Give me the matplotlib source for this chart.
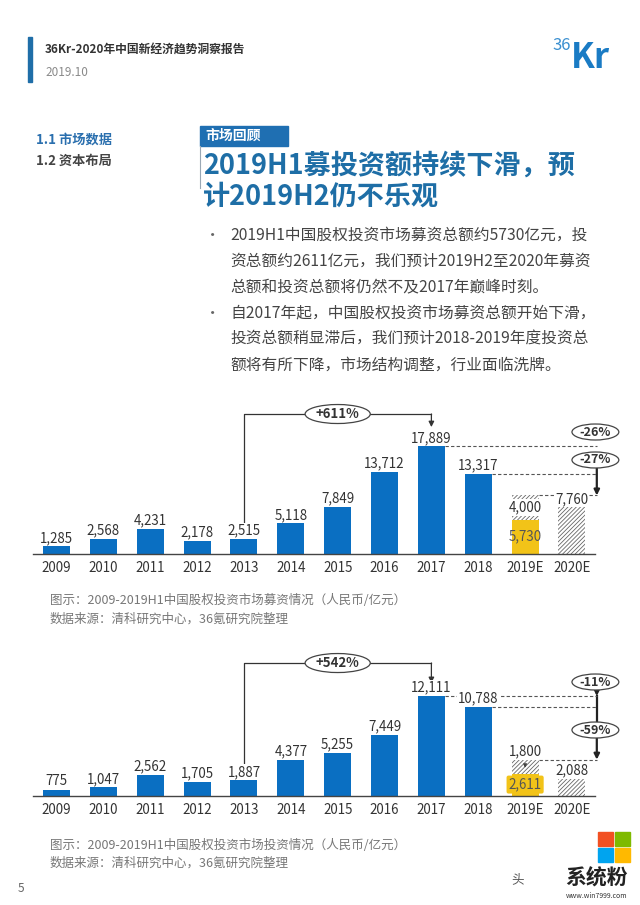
import matplotlib
matplotlib.use('Agg')
import matplotlib.pyplot as plt
from matplotlib.patches import Ellipse, Rectangle
import numpy as np

plt.rcParams['font.family'] = ['Noto Sans CJK SC', 'DejaVu Sans']
plt.rcParams['hatch.linewidth'] = 0.6

# ---------------- data ----------------
years = ['2009', '2010', '2011', '2012', '2013', '2014', '2015', '2016',
         '2017', '2018', '2019E', '2020E']
fund_actual = [1285, 2568, 4231, 2178, 2515, 5118, 7849, 13712, 17889, 13317]
fund_2019_h1 = 5730
fund_2019_h2 = 4000
fund_2020 = 7760
invest_actual = [775, 1047, 2562, 1705, 1887, 4377, 5255, 7449, 12111, 10788]
invest_2019_h1 = 2611
invest_2019_h2 = 1800
invest_2020 = 2088
fund_pct = ['+611%', '-26%', '-27%']
invest_pct = ['+542%', '-11%', '-59%']

header_title = '36Kr-2020年中国新经济趋势洞察报告'
header_date = '2019.10'
nav = ['1.1 市场数据', '1.2 资本布局']
tag = '市场回顾'
title_lines = ['2019H1募投资额持续下滑，预', '计2019H2仍不乐观']
bullets = [
    ['2019H1中国股权投资市场募资总额约5730亿元，投',
     '资总额约2611亿元，我们预计2019H2至2020年募资',
     '总额和投资总额将仍然不及2017年巅峰时刻。'],
    ['自2017年起，中国股权投资市场募资总额开始下滑，',
     '投资总额稍显滞后，我们预计2018-2019年度投资总',
     '额将有所下降，市场结构调整，行业面临洗牌。'],
]
cap1 = ['图示：2009-2019H1中国股权投资市场募资情况（人民币/亿元）',
        '数据来源：清科研究中心，36氪研究院整理']
cap2 = ['图示：2009-2019H1中国股权投资市场投资情况（人民币/亿元）',
        '数据来源：清科研究中心，36氪研究院整理']

BLUE = '#0a6fc2'
YELLOW = '#f2c318'
DARK = '#333333'
TITLE_BLUE = '#1e6ea6'

W, H = 640, 905
fig = plt.figure(figsize=(6.4, 9.05), dpi=100)
bg = fig.add_axes([0, 0, 1, 1])
bg.set_xlim(0, W)
bg.set_ylim(H, 0)
bg.axis('off')

# ---------------- header ----------------
bg.add_patch(Rectangle((28, 37), 4, 45, color='#1f6ea8'))
bg.text(45, 50, header_title, fontsize=8.5, fontweight='bold', color=DARK, va='center')
bg.text(45, 73, header_date, fontsize=8.5, color='#8a8a8a', va='center')
bg.text(571, 46, '36', fontsize=12, color='#3a8fd0', va='center', ha='right')
bg.text(571, 57, 'Kr', fontsize=25, fontweight='bold', color='#1a7bc4', va='center', ha='left')

bg.text(36, 140, nav[0], fontsize=9.5, fontweight='bold', color='#2a6fae', va='center')
bg.text(36, 161, nav[1], fontsize=9.5, fontweight='bold', color='#444444', va='center')

bg.add_patch(Rectangle((200, 126), 88, 20, color='#1f6fb2'))
bg.text(205, 136, tag, fontsize=10, fontweight='bold', color='white', va='center')
bg.plot([200, 200], [146, 188], color='#9aa8b5', lw=0.8)
bg.text(203, 166, title_lines[0], fontsize=19.5, fontweight='bold', color=TITLE_BLUE, va='center')
bg.text(203, 197, title_lines[1], fontsize=19.5, fontweight='bold', color=TITLE_BLUE, va='center')

y = 235
for group in bullets:
    bg.text(205, y, '•', fontsize=11, color='#666666', va='center')
    for line in group:
        bg.text(230, y, line, fontsize=11.3, color='#444444', va='center')
        y += 26

for i, c in enumerate(cap1):
    bg.text(50, 600 + 19 * i, c, fontsize=9, color='#777777', va='center')
for i, c in enumerate(cap2):
    bg.text(50, 845 + 18 * i, c, fontsize=9, color='#777777', va='center')
bg.text(18, 888, '5', fontsize=8.5, color='#666666', va='center')

# watermark
bg.add_patch(Rectangle((598, 832), 15, 14, color='#f25022'))
bg.add_patch(Rectangle((615, 832), 15, 14, color='#7fba00'))
bg.add_patch(Rectangle((598, 848), 15, 14, color='#00a4ef'))
bg.add_patch(Rectangle((615, 848), 15, 14, color='#ffb900'))
bg.text(597, 878, '系统粉', fontsize=15, fontweight='bold', color='#222222', va='center', ha='center')
bg.text(597, 896, 'www.win7999.com', fontsize=5, color='#333333', va='center', ha='center')
bg.text(518, 880, '头', fontsize=9, color='#555555', va='center', ha='center')

fmt = lambda v: f'{v:,}'
BW = 0.576
FS = 9.6
HATCH = '////////'


def chart_axes(base_px, top_px):
    x0, x1 = 33.1, 595.4
    ax = fig.add_axes([x0 / W, (H - base_px) / H, (x1 - x0) / W, (base_px - top_px) / H])
    ax.patch.set_alpha(0)
    return ax


def draw_chart(ax, actual, h1, h2, e2020, pct, ymax, upp, cfg):
    n = len(actual)
    x = np.arange(len(years))
    ax.set_xlim(-0.5, 11.5)
    ax.set_ylim(0, ymax)
    for s in ['top', 'right', 'left']:
        ax.spines[s].set_visible(False)
    ax.spines['bottom'].set_color('#444444')
    ax.spines['bottom'].set_linewidth(1)
    ax.set_yticks([])
    ax.set_xticks(x)
    ax.set_xticklabels(years, fontsize=FS, color=DARK)
    ax.tick_params(axis='x', length=0, pad=5)

    ax.bar(x[:n], actual, width=BW, color=BLUE, zorder=2)
    for xi, v in zip(x[:n], actual):
        ax.annotate(fmt(v), (xi, v), xytext=(0, 1), textcoords='offset points',
                    ha='center', va='bottom', fontsize=FS, color=DARK, zorder=5,
                    bbox=dict(boxstyle='square,pad=0.05', fc='white', ec='none'))

    i19, i20 = n, n + 1
    total19 = h1 + h2
    ax.bar(i19, h1, width=BW, color=YELLOW, zorder=2)
    ax.bar(i19, h2, bottom=h1, width=BW, color='white', edgecolor='#666666',
           hatch=HATCH, lw=0, zorder=2)
    ax.bar(i20, e2020, width=BW, color='white', edgecolor='#666666',
           hatch=HATCH, lw=0, zorder=2)

    # yellow H1 label
    if cfg['h1_box']:
        ax.text(i19, h1 / 2 + 80, fmt(h1), ha='center', va='center', fontsize=FS, color='#555555',
                zorder=6, bbox=dict(boxstyle='round,pad=0.15', fc=YELLOW, ec='none'))
    else:
        ax.text(i19, h1 / 2, fmt(h1), ha='center', va='center', fontsize=FS, color='#555555', zorder=6)
    # H2 estimate label
    if cfg['h2_inside']:
        ax.text(i19, h1 + h2 / 2, fmt(h2), ha='center', va='center', fontsize=FS, color=DARK, zorder=6,
                bbox=dict(boxstyle='square,pad=0.1', fc='white', ec='none'))
    else:
        ax.annotate(fmt(h2), (i19, total19), xytext=(0, 1), textcoords='offset points',
                    ha='center', va='bottom', fontsize=FS, color=DARK, zorder=6)
        ax.annotate('', xy=(i19, total19 - 11 * upp), xytext=(i19, total19 - 2 * upp),
                    arrowprops=dict(arrowstyle='-|>', color='#444444', lw=0.8, mutation_scale=5), zorder=6)
    ax.annotate(fmt(e2020), (i20, e2020), xytext=(0, 1), textcoords='offset points',
                ha='center', va='bottom', fontsize=FS, color=DARK, zorder=6,
                bbox=dict(boxstyle='square,pad=0.05', fc='white', ec='none'))

    # dashed reference lines
    xr = 11.53
    dash = dict(ls=(0, (3, 2)), color='#555555', lw=0.8, clip_on=False, zorder=3)
    ax.plot([8 + BW / 2, xr], [actual[8]] * 2, **dash)
    ax.plot([9 + BW / 2, xr], [actual[9]] * 2, **dash)
    ax.plot([i19 + BW / 2, xr], [total19] * 2, **dash)

    # growth bracket 2013 -> 2017
    yb = cfg['bracket_y']
    ax.plot([4, 4, 8], [actual[4] + cfg['bracket_gap'], yb, yb], color=DARK, lw=0.9,
            clip_on=False, zorder=3)
    ax.annotate('', xy=(8, cfg['arrow_end']), xytext=(8, yb + 5),
                arrowprops=dict(arrowstyle='-|>', color=DARK, lw=0.9, mutation_scale=8,
                                shrinkA=0, shrinkB=0), annotation_clip=False)
    ax.add_patch(Ellipse((6, yb), 1.39, 19 * upp, fc='white', ec='#444444', lw=0.9,
                         clip_on=False, zorder=6))
    ax.text(6, yb, pct[0], ha='center', va='center', fontsize=9.5, fontweight='bold',
            color=DARK, zorder=7)

    # drop ellipses + arrows
    eh = 16 * upp
    for lab, yc in zip(pct[1:], cfg['drop_y']):
        ax.add_patch(Ellipse((11.5, yc), 1.0, eh, fc='white', ec='#444444', lw=0.9,
                             clip_on=False, zorder=6))
        ax.text(11.5, yc, lab, ha='center', va='center', fontsize=9, fontweight='bold',
                color=DARK, zorder=7)
    arr = dict(arrowstyle='-|>', color='#222222', lw=1.6, mutation_scale=8, shrinkA=0, shrinkB=0)
    for (ya, yb2, head) in cfg['segments']:
        if head:
            ax.annotate('', xy=(xr, yb2), xytext=(xr, ya), arrowprops=arr, annotation_clip=False)
        else:
            ax.plot([xr, xr], [ya, yb2], color='#222222', lw=1.6, clip_on=False)


# ---------------- chart 1: fundraising ----------------
ax1 = chart_axes(554, 400)
upp1 = 25600 / 154
total1 = fund_2019_h1 + fund_2019_h2
draw_chart(ax1, fund_actual, fund_2019_h1, fund_2019_h2, fund_2020, fund_pct, 25600, upp1,
           dict(h1_box=False, h2_inside=True, bracket_y=23270, bracket_gap=2700,
                arrow_end=21100, drop_y=[20280, 15626],
                segments=[(15626 - 8 * upp1, total1, True)]))

# ---------------- chart 2: investment ----------------
ax2 = chart_axes(796, 650)
upp2 = 17700 / 146
total2 = invest_2019_h1 + invest_2019_h2
draw_chart(ax2, invest_actual, invest_2019_h1, invest_2019_h2, invest_2020, invest_pct, 17700, upp2,
           dict(h1_box=True, h2_inside=False, bracket_y=16120, bracket_gap=1900,
                arrow_end=13700, drop_y=[13820, 8000],
                segments=[(13820 - 8 * upp2, invest_actual[8], True),
                          (invest_actual[8], 8000 + 8 * upp2, False),
                          (8000 - 8 * upp2, total2, True)]))

fig.savefig('out.png', dpi=100, facecolor='white')
